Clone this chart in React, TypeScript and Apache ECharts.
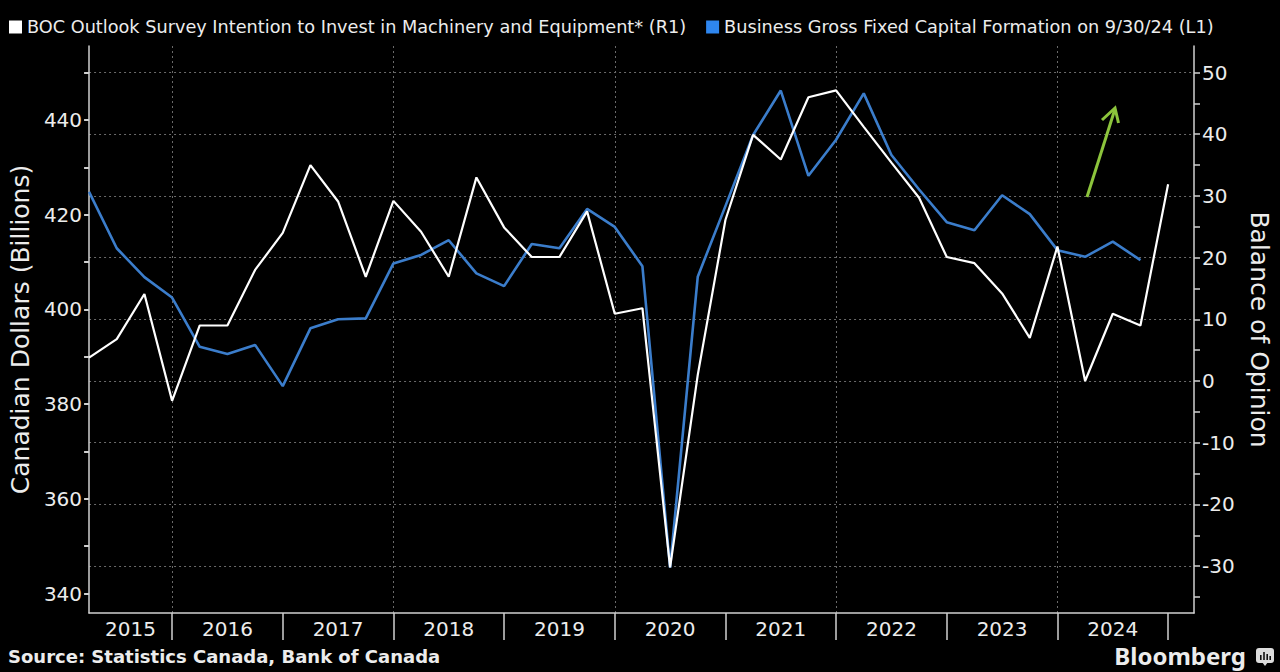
import React, { useEffect, useRef } from 'react';
import * as echarts from 'echarts';

// ---------- data ----------
const quarters = [
  '2015Q1', '2015Q2', '2015Q3', '2015Q4',
  '2016Q1', '2016Q2', '2016Q3', '2016Q4',
  '2017Q1', '2017Q2', '2017Q3', '2017Q4',
  '2018Q1', '2018Q2', '2018Q3', '2018Q4',
  '2019Q1', '2019Q2', '2019Q3', '2019Q4',
  '2020Q1', '2020Q2', '2020Q3', '2020Q4',
  '2021Q1', '2021Q2', '2021Q3', '2021Q4',
  '2022Q1', '2022Q2', '2022Q3', '2022Q4',
  '2023Q1', '2023Q2', '2023Q3', '2023Q4',
  '2024Q1', '2024Q2', '2024Q3', '2024Q4',
];

// Business Gross Fixed Capital Formation, C$ billions (left axis), Q1 2015 .. Q3 2024
const gfcfValues = [
  424.8, 412.9, 406.8, 402.5,
  392.1, 390.6, 392.5, 383.8,
  396.0, 397.9, 398.1, 409.7,
  411.5, 414.6, 407.6, 404.9,
  413.8, 412.9, 421.2, 417.4,
  409.1, 345.5, 406.9, 421.8,
  436.8, 446.2, 428.2, 435.8,
  445.6, 432.6, 425.3, 418.4,
  416.7, 424.1, 420.1, 412.5,
  411.1, 414.3, 410.4,
];

// BOC Business Outlook Survey, intention to invest in M&E, balance of opinion (right axis), Q1 2015 .. Q4 2024
const bosValues = [
  3.8, 6.8, 14.1, -3.2,
  9.0, 9.0, 18.0, 24.0,
  35.0, 29.1, 16.9, 29.2,
  24.2, 16.9, 33.0, 24.9,
  20.1, 20.1, 27.5, 10.9,
  11.8, -30.2, 1.0, 26.1,
  39.9, 35.9, 46.0, 47.1,
  41.2, 35.4, 29.7, 20.1,
  19.1, 14.2, 7.0, 21.8,
  0.0, 10.9, 9.0, 31.9,
];

const yearLabels = ['2015', '2016', '2017', '2018', '2019', '2020', '2021', '2022', '2023', '2024'];
const yearBoundaries = [2016, 2017, 2018, 2019, 2020, 2021, 2022, 2023, 2024, 2025];
const verticalGridYears = [2016, 2018, 2020, 2022, 2024];
const leftLabels = ['340', '360', '380', '400', '420', '440'];
const leftTicks = [340, 350, 360, 370, 380, 390, 400, 410, 420, 430, 440, 450];
const rightLabels = ['-30', '-20', '-10', '0', '10', '20', '30', '40', '50'];
const rightTicks = [-35, -30, -25, -20, -15, -10, -5, 0, 5, 10, 15, 20, 25, 30, 35, 40, 45, 50];

const seriesBOS = 'BOC Outlook Survey Intention to Invest in Machinery and Equipment* (R1)';
const seriesGFCF = 'Business Gross Fixed Capital Formation on 9/30/24 (L1)';

// axis extents
const X_MIN = 2015.25;
const X_MAX = 2025.234;
const L_MIN = 335.9;
const L_MAX = 455.6;
const R_MIN = -37.6;
const R_MAX = 54.3;

const FONT = '"DejaVu Sans", "Noto Sans", sans-serif';
const LOGO_FONT = '"Noto Sans", "DejaVu Sans", sans-serif';
const AXIS_COLOR = '#d0d0d0';
const TEXT_COLOR = '#ececec';
const GRID_COLOR = '#6a6a6a';

const quarterToX = (q: string) => {
  const y = parseInt(q.slice(0, 4), 10);
  const n = parseInt(q.slice(5), 10);
  return y + n / 4;
};

function buildOption() {
  const gfcfData = gfcfValues.map((v, i) => [quarterToX(quarters[i]), v]);
  const bosData = bosValues.map((v, i) => [quarterToX(quarters[i]), v]);
  const labelPositions = yearLabels.map((y) => {
    const start = Math.max(+y, X_MIN);
    const end = Math.min(+y + 1, X_MAX);
    return (start + end) / 2;
  });

  const dotted = { type: [2, 3] as any, color: GRID_COLOR, width: 1 };

  return {
    backgroundColor: '#000000',
    animation: false,
    textStyle: { fontFamily: FONT },
    legend: {
      left: 4,
      top: 13,
      icon: 'rect',
      itemWidth: 13,
      itemHeight: 13,
      itemGap: 20,
      selectedMode: false,
      data: [
        { name: seriesBOS, itemStyle: { color: '#ffffff' } },
        { name: seriesGFCF, itemStyle: { color: '#2e86ef' } },
      ],
      textStyle: { color: TEXT_COLOR, fontSize: 17.7, fontFamily: FONT },
    },
    grid: { left: 87, right: 85, top: 46, bottom: 59 },
    xAxis: [
      {
        type: 'value',
        min: X_MIN,
        max: X_MAX,
        position: 'bottom',
        axisLine: { show: true, onZero: false, lineStyle: { color: AXIS_COLOR, width: 1.5 } },
        axisTick: {
          show: true,
          customValues: yearBoundaries,
          length: 27,
          lineStyle: { color: AXIS_COLOR, width: 1.5 },
        },
        axisLabel: {
          show: true,
          customValues: labelPositions,
          formatter: (v: number) => {
            const y = Math.floor(v + 1e-6);
            const found = yearLabels.find((l) => +l === y);
            return found ?? '';
          },
          color: TEXT_COLOR,
          fontSize: 20,
          fontFamily: FONT,
          margin: 6,
          hideOverlap: false,
        },
        splitLine: { show: false },
      },
      {
        type: 'value',
        min: X_MIN,
        max: X_MAX,
        position: 'top',
        axisLine: { show: false, onZero: false },
        axisTick: { show: false, customValues: verticalGridYears },
        axisLabel: { show: false, customValues: verticalGridYears },
        splitLine: { show: true, customValues: verticalGridYears, lineStyle: dotted },
      },
    ],
    yAxis: [
      {
        type: 'value',
        position: 'left',
        min: L_MIN,
        max: L_MAX,
        axisLine: { show: true, onZero: false, lineStyle: { color: AXIS_COLOR, width: 1.5 } },
        axisTick: {
          show: true,
          customValues: leftTicks,
          length: 5,
          lineStyle: { color: AXIS_COLOR, width: 2 },
        },
        axisLabel: {
          show: true,
          customValues: leftLabels.map(Number),
          color: TEXT_COLOR,
          fontSize: 20,
          fontFamily: FONT,
          margin: 7,
        },
        splitLine: { show: false },
        name: 'Canadian Dollars (Billions)',
        nameLocation: 'middle',
        nameRotate: 90,
        nameGap: 53,
        nameTextStyle: { color: TEXT_COLOR, fontSize: 25, fontFamily: FONT },
      },
      {
        type: 'value',
        position: 'right',
        min: R_MIN,
        max: R_MAX,
        axisLine: { show: true, onZero: false, lineStyle: { color: AXIS_COLOR, width: 1.5 } },
        axisTick: {
          show: true,
          customValues: rightTicks,
          length: 6,
          lineStyle: { color: AXIS_COLOR, width: 1.5 },
        },
        axisLabel: {
          show: true,
          customValues: rightLabels.map(Number),
          color: TEXT_COLOR,
          fontSize: 20,
          fontFamily: FONT,
          margin: 8,
        },
        splitLine: { show: false },
        name: 'Balance of Opinion',
        nameLocation: 'middle',
        nameRotate: -90,
        nameGap: 53,
        nameTextStyle: { color: TEXT_COLOR, fontSize: 25, fontFamily: FONT },
      },
      {
        type: 'value',
        position: 'right',
        min: R_MIN,
        max: R_MAX,
        axisLine: { show: false, onZero: false },
        axisTick: { show: false, customValues: rightLabels.map(Number) },
        axisLabel: { show: false, customValues: rightLabels.map(Number) },
        splitLine: { show: true, customValues: rightLabels.map(Number), lineStyle: dotted },
      },
    ],
    series: [
      {
        name: seriesGFCF,
        type: 'line',
        xAxisIndex: 0,
        yAxisIndex: 0,
        data: gfcfData,
        showSymbol: false,
        symbol: 'none',
        itemStyle: { color: '#2e86ef' },
        lineStyle: { color: '#3b7dcb', width: 2.6 },
        z: 3,
      },
      {
        name: seriesBOS,
        type: 'line',
        xAxisIndex: 0,
        yAxisIndex: 1,
        data: bosData,
        showSymbol: false,
        symbol: 'none',
        itemStyle: { color: '#ffffff' },
        lineStyle: { color: '#ffffff', width: 2.2 },
        z: 4,
      },
    ],
    graphic: [
      {
        type: 'text',
        left: 8,
        top: 647,
        style: {
          text: 'Source: Statistics Canada, Bank of Canada',
          fill: TEXT_COLOR,
          font: `bold 18px ${FONT}`,
        },
      },
      {
        type: 'text',
        right: 34,
        top: 643,
        style: {
          text: 'Bloomberg',
          fill: TEXT_COLOR,
          font: `bold 24px ${LOGO_FONT}`,
        },
      },
      {
        type: 'group',
        left: 1256,
        top: 648,
        children: [
          { type: 'rect', shape: { x: 0, y: 0, width: 18, height: 15, r: 3 }, style: { fill: '#dcdcdc' } },
          { type: 'polygon', shape: { points: [[6, 14], [12, 14], [9, 18]] }, style: { fill: '#dcdcdc' } },
          { type: 'rect', shape: { x: 4, y: 7, width: 1.6, height: 5 }, style: { fill: '#111' } },
          { type: 'rect', shape: { x: 7.2, y: 4, width: 1.6, height: 8 }, style: { fill: '#111' } },
          { type: 'rect', shape: { x: 10.4, y: 6, width: 1.6, height: 6 }, style: { fill: '#111' } },
          { type: 'rect', shape: { x: 13.4, y: 8, width: 1.6, height: 4 }, style: { fill: '#111' } },
        ],
      },
      {
        type: 'polyline',
        shape: { points: [[1087, 197], [1115, 109]] },
        style: { stroke: '#8cc43c', lineWidth: 3, fill: 'none' },
        z: 10,
      },
      {
        type: 'polyline',
        shape: { points: [[1102, 120], [1115, 108], [1118.5, 123]] },
        style: { stroke: '#8cc43c', lineWidth: 3, fill: 'none' },
        z: 10,
      },
    ],
  };
}

export default function App() {
  const ref = useRef<HTMLDivElement>(null);

  useEffect(() => {
    if (!ref.current) return;
    const chart = echarts.init(ref.current, undefined, { renderer: 'svg' });
    chart.setOption(buildOption() as any);
    return () => {
      chart.dispose();
    };
  }, []);

  return (
    <div
      ref={ref}
      style={{
        position: 'fixed',
        left: 0,
        top: 0,
        width: 1280,
        height: 672,
        background: '#000',
      }}
    />
  );
}
